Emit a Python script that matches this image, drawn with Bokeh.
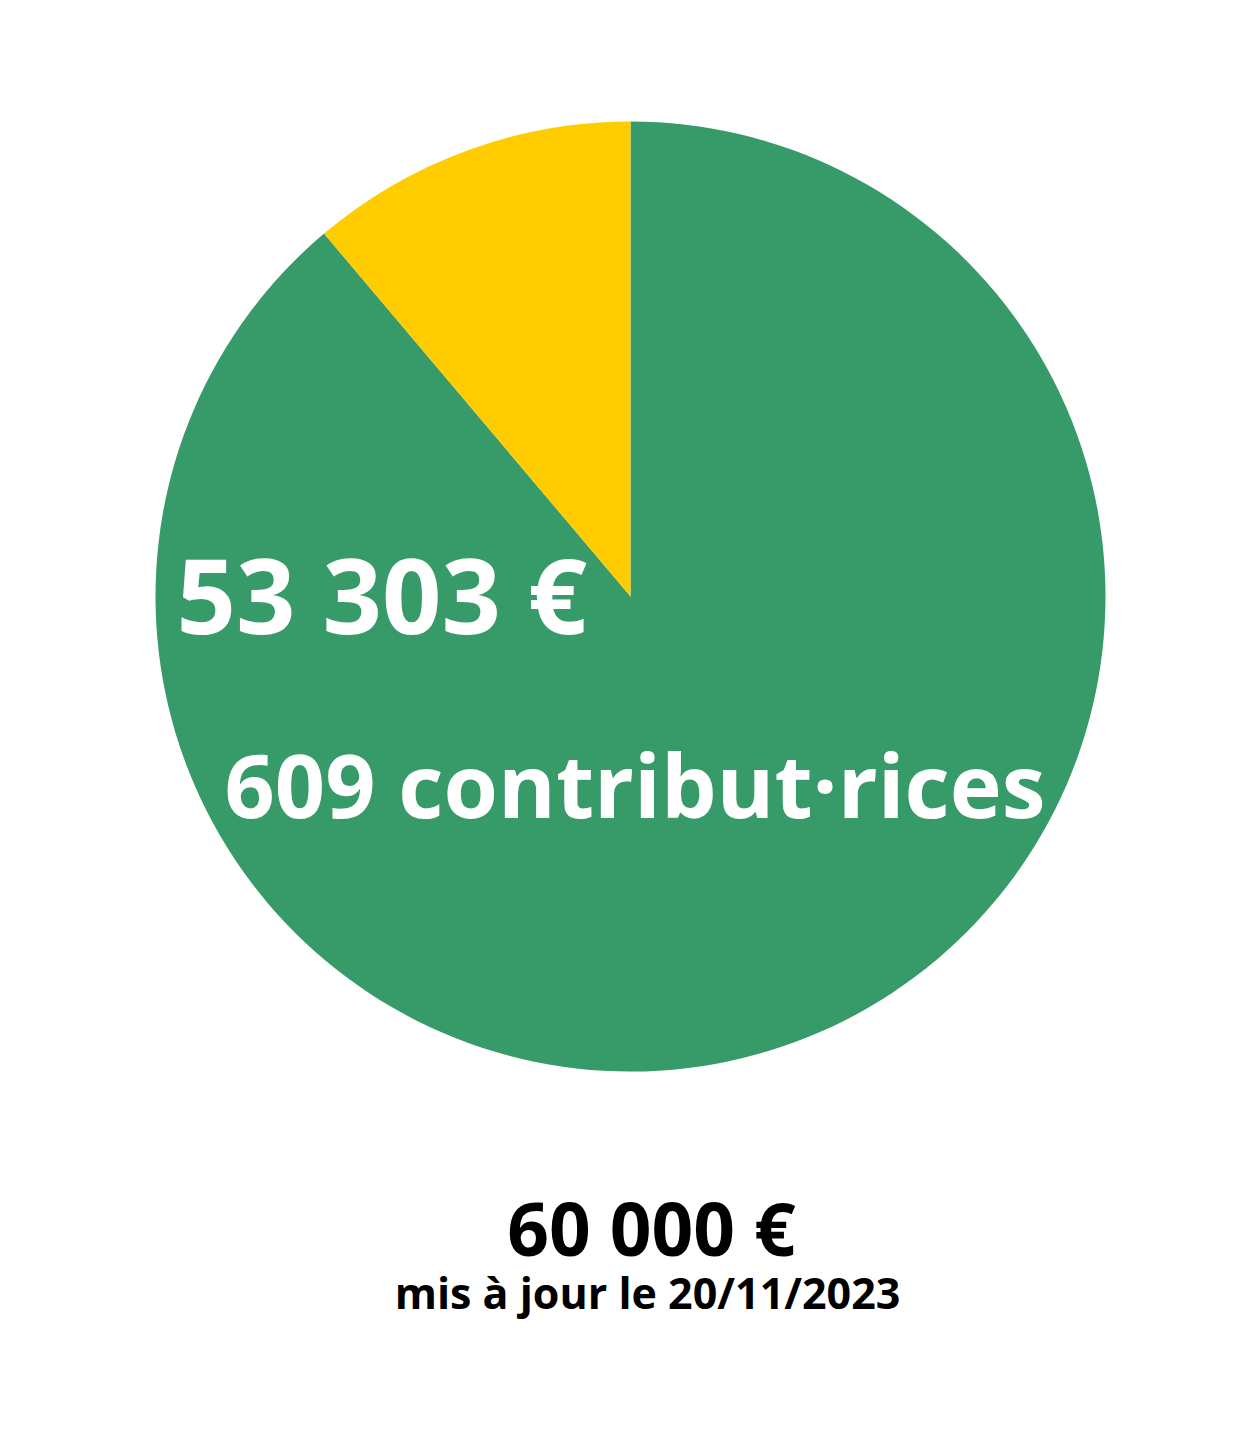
import math
from bokeh.plotting import figure
from bokeh.models import Range1d, ColumnDataSource
from bokeh.core.properties import value
from bokeh.embed import file_html
from bokeh.resources import INLINE

# Data
goal = 60000
collected = 53303
contributors = 609
update_date = "20/11/2023"
segments = ["collecté", "restant"]
amounts = [collected, goal - collected]
colors = ["#369a69", "#ffcc00"]

W, H = 1238, 1415
p = figure(width=W, height=H, x_range=Range1d(0, W), y_range=Range1d(0, H),
           output_backend="svg", toolbar_location=None, min_border=0)
p.axis.visible = False
p.grid.visible = False
p.outline_line_color = None
p.background_fill_color = "white"
p.border_fill_color = "white"

# angles: remaining share starts at 12 o'clock going anticlockwise, collected fills the rest
total = sum(amounts)
frac_rest = amounts[1] / total
top = math.pi / 2
starts = [top + 2 * math.pi * frac_rest, top]
ends = [top + 2 * math.pi, top + 2 * math.pi * frac_rest]
src = ColumnDataSource(dict(start=starts, end=ends, color=colors, seg=segments))
p.wedge(x=630, y=819, radius=475, start_angle="start", end_angle="end",
        fill_color="color", line_color=None, source=src)

def fmt(n):
    return f"{n:,}".replace(",", " ")

font = value("Open Sans")
p.text(x=[176], y=[822], text=[f"{fmt(collected)} €"], text_font=font,
       text_font_style="bold", text_font_size="104px", text_color="white",
       text_baseline="alphabetic", text_align="left")
p.text(x=[224], y=[632], text=[f"{contributors} contribut·rices"], text_font=font,
       text_font_style="bold", text_font_size="88px", text_color="white",
       text_baseline="alphabetic", text_align="left")
p.text(x=[651], y=[188], text=[f"{fmt(goal)} €"], text_font=font,
       text_font_style="bold", text_font_size="73px", text_color="black",
       text_baseline="alphabetic", text_align="center")
p.text(x=[647], y=[123], text=[f"mis à jour le {update_date}"], text_font=font,
       text_font_style="bold", text_font_size="43px", text_color="black",
       text_baseline="alphabetic", text_align="center")

open("out.html", "w").write(file_html(p, INLINE))
